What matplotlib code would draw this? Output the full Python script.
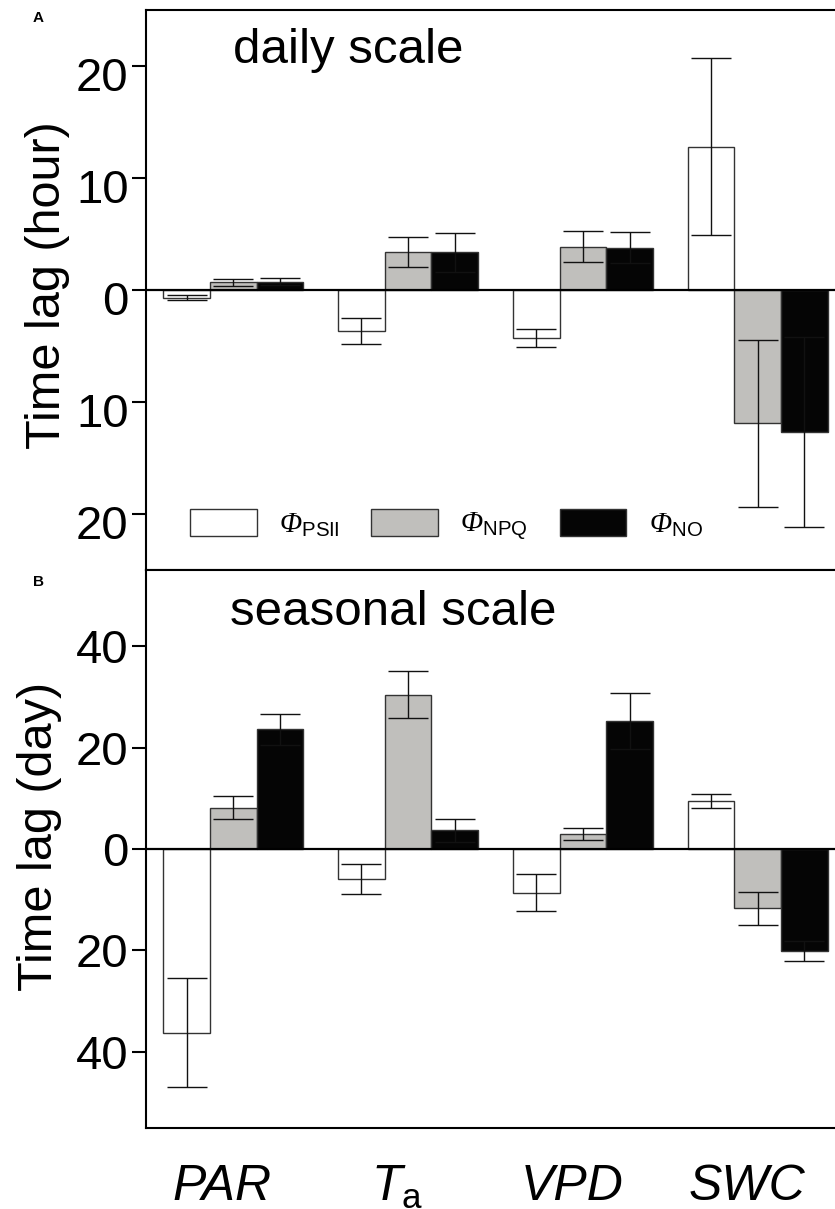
import numpy as np
import matplotlib
matplotlib.use("Agg")
import matplotlib.pyplot as plt
import matplotlib.transforms as mtransforms

plt.rcParams['font.family'] = ['Liberation Sans', 'DejaVu Sans']
plt.rcParams['mathtext.fontset'] = 'custom'
plt.rcParams['mathtext.rm'] = 'Liberation Sans'
plt.rcParams['mathtext.sf'] = 'Liberation Sans'
plt.rcParams['mathtext.it'] = 'Liberation Sans:italic'
plt.rcParams['mathtext.cal'] = 'Liberation Serif:italic'

# drivers
drivers = ['PAR', r'$\mathit{T}_{\mathrm{a}}$', 'VPD', 'SWC']
series_names = [r'$\mathcal{\Phi}_{\mathsf{PSII}}$', r'$\mathcal{\Phi}_{\mathsf{NPQ}}$', r'$\mathcal{\Phi}_{\mathsf{NO}}$']

# daily scale (hour), negative = lag in the other direction
psii_hour = [-0.7, -3.65, -4.3, 12.8]
psii_hour_err = [0.23, 1.18, 0.8, 7.93]
npq_hour = [0.67, 3.42, 3.87, -11.9]
npq_hour_err = [0.33, 1.34, 1.4, 7.45]
no_hour = [0.74, 3.36, 3.78, -12.7]
no_hour_err = [0.3, 1.76, 1.37, 8.5]

# seasonal scale (day)
psii_day = [-36.2, -5.85, -8.6, 9.45]
psii_day_err = [10.8, 2.95, 3.7, 1.45]
npq_day = [8.15, 30.4, 2.95, -11.7]
npq_day_err = [2.3, 4.6, 1.1, 3.27]
no_day = [23.6, 3.65, 25.2, -20.1]
no_day_err = [3.1, 2.25, 5.5, 2.0]

colors = ['white', '#c0bfbc', '#050505']

fig = plt.figure(figsize=(8.35, 12.09), dpi=100)
axA = fig.add_axes([146/835, 1-570/1209, 699/835, 560/1209])
axB = fig.add_axes([146/835, 1-1128/1209, 699/835, 558/1209])


def draw_panel(ax, vals, errs, ylim, ticks):
    x = np.arange(len(drivers))
    w = 0.267
    for i in range(3):
        ax.bar(x + (i-1)*w, vals[i], w, yerr=errs[i], color=colors[i],
               edgecolor='#333333', linewidth=1.0, label=series_names[i],
               error_kw=dict(ecolor='#111111', elinewidth=1.0, capsize=14.4, capthick=1.0))
    ax.axhline(0, color='black', lw=1.6, zorder=5)
    ax.set_xlim(-0.5, len(drivers)-0.5)
    ax.set_ylim(*ylim)
    ax.set_yticks(ticks)
    ax.set_yticklabels([str(abs(t)) for t in ticks], fontsize=34)
    ax.set_xticks(x)
    ax.tick_params(axis='y', direction='out', length=10, width=1.5, pad=2.5)
    ax.tick_params(axis='x', length=0, pad=21)
    for s in ax.spines.values():
        s.set_linewidth(1.5)


draw_panel(axA, [psii_hour, npq_hour, no_hour], [psii_hour_err, npq_hour_err, no_hour_err],
           (-25, 25), [-20, -10, 0, 10, 20])
draw_panel(axB, [psii_day, npq_day, no_day], [psii_day_err, npq_day_err, no_day_err],
           (-55, 55), [-40, -20, 0, 20, 40])

axA.set_xticklabels([])
axB.set_xticklabels(drivers, fontsize=36, style='italic')

# panel A tick labels sit a bit low in the original
offset = mtransforms.ScaledTranslation(0, -8/100, fig.dpi_scale_trans)
for lab in axA.get_yticklabels():
    lab.set_transform(lab.get_transform() + offset)
# x labels a bit left and lower
xoff = mtransforms.ScaledTranslation(-11/100, -7/100, fig.dpi_scale_trans)
for lab in axB.get_xticklabels():
    lab.set_transform(lab.get_transform() + xoff)

axA.set_ylabel('Time lag (hour)', fontsize=35)
axA.yaxis.set_label_coords(-0.109, 0.508)
axB.set_ylabel('Time lag (day)', fontsize=35)
axB.yaxis.set_label_coords(-0.120, 0.522)

axA.text(0.1245, 0.905, 'daily scale', transform=axA.transAxes, fontsize=35.5, va='baseline')
axB.text(0.120, 0.901, 'seasonal scale', transform=axB.transAxes, fontsize=35.5, va='baseline')

axA.legend(loc='center left', bbox_to_anchor=(0.063, 0.0786), ncol=3, frameon=False,
           fontsize=21, handlelength=2.28, handleheight=1.07, handletextpad=0.76,
           columnspacing=1.1, borderpad=0, borderaxespad=0)

fig.text(38/835, 1-18/1209, 'A', fontsize=11, fontweight='bold', ha='center', va='center')
fig.text(38/835, 1-582/1209, 'B', fontsize=11, fontweight='bold', ha='center', va='center')

fig.savefig('out.png', dpi=100)
